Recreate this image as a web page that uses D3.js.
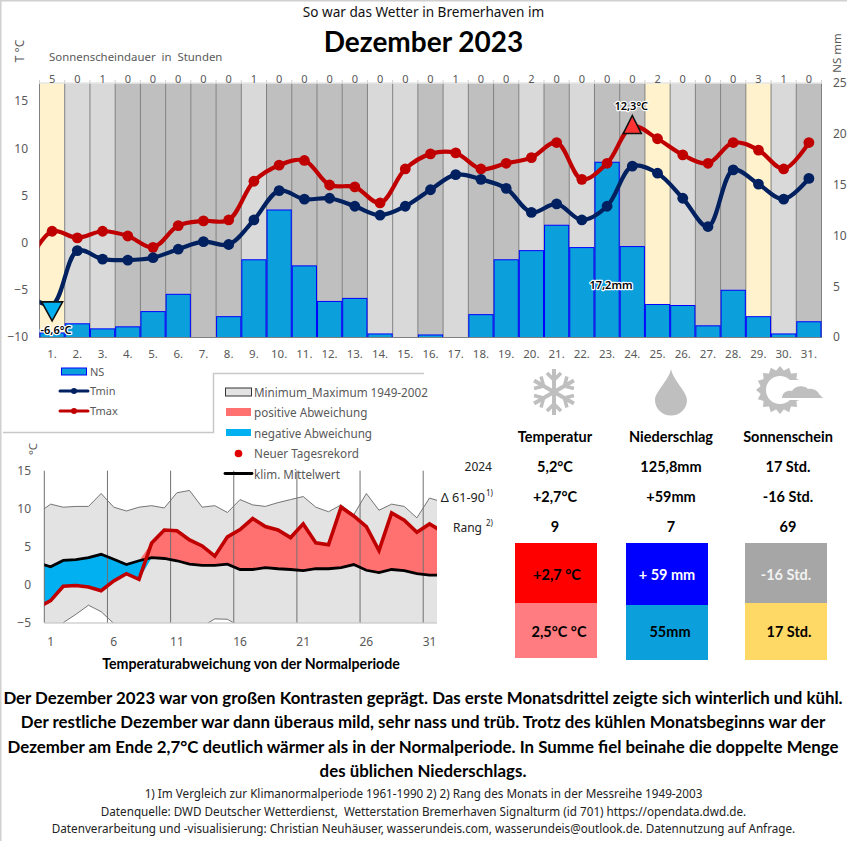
<!DOCTYPE html>
<html><head><meta charset="utf-8">
<script src="https://cdn.jsdelivr.net/npm/d3@7"></script>
<style>html,body{margin:0;padding:0;background:#fff}svg{display:block}text{white-space:pre}</style>
</head><body><svg id="c" width="847" height="841"></svg>
<script>
// ---- data ----
const days = d3.range(1, 32);
const sunshine = [5,0,1,0,0,0,0,0,1,0,0,0,0,0,0,0,1,0,0,2,0,0,0,0,2,0,0,0,3,1,0];
const skyClass = [2,1,1,0,0,0,0,0,1,0,0,0,0,1,1,0,1,0,0,1,0,1,0,0,2,1,0,0,2,1,0];
const precip = [0.4,1.3,0.8,1.0,2.5,4.2,0,2.0,7.6,12.5,7.0,3.5,3.8,0.3,0,0.2,0,2.2,7.6,8.5,11.0,8.8,17.2,8.9,3.2,3.1,1.1,4.6,2.0,0.3,1.5];
const tmax = [-2.3,1.2,0.5,1.2,0.7,-0.5,1.8,2.3,2.4,6.5,8.2,8.7,6.1,5.9,4.2,7.8,9.4,9.5,7.8,8.4,9.0,10.6,6.7,8.4,12.3,11.0,9.3,8.4,10.6,9.8,7.8,10.6];
const tmin = [-5.5,-6.6,-0.85,-1.75,-1.85,-1.6,-0.7,0.1,-0.2,2.4,5.5,4.6,4.7,3.85,2.9,3.85,5.6,7.2,6.7,5.75,3.2,4.1,2.4,3.85,8.1,7.35,4.7,1.7,7.7,6.2,4.6,6.8];
const recMax = [9.4,10.6,10.2,10.3,10.3,12.0,10.2,9.7,10.2,10.4,10.1,12.1,12.4,10.2,10.4,9.5,11.2,10.5,10.3,10.8,11.2,11.6,10.2,9.6,10.5,9.2,12.0,9.8,10.6,10.3,8.8,11.4,10.9];
const recMin = [-7,-6.5,-5.0,-3.9,-2.7,-3.55,-5.1,-6.2,-7,-7,-6.5,-7,-6.5,-5.5,-4.5,-4.55,-5.5,-7,-7,-7,-6.5,-7,-7,-6.5,-7,-7,-6.5,-7,-7,-6.5,-7,-7,-7];
const climMean = [2.9,2.35,3.2,3.3,3.55,4.0,3.35,2.65,3.15,3.55,3.45,3.15,2.7,2.55,2.55,2.7,2.0,2.0,2.25,2.1,2.0,1.85,2.1,2.1,2.25,2.65,1.9,1.6,2.0,1.85,1.45,1.25,1.25];
const tmean = [-3.0,-2.1,-0.2,-0.1,-0.3,-0.8,0.5,1.45,0.7,5.5,7.2,7.1,5.9,5.1,3.75,6.3,7.25,8.7,7.65,7.2,6.2,8.0,5.5,5.25,10.2,9.05,7.65,4.5,9.45,8.5,6.9,8.0,7.0];
const seriesDays = d3.range(0, 32);
const anomalyDays = d3.range(0, 33);
const tempTicks = [-10,-5,0,5,10,15];
const precipTicks = [0,5,10,15,20,25];
const anomalyTicks = [-5,0,5,10,15];
const anomalyLabelDays = [1,6,11,16,21,26,31];
const tableHeads = ["Temperatur","Niederschlag","Sonnenschein"];
const tableRows = [["5,2°C","125,8mm","17 Std."],["+2,7°C","+59mm","-16 Std."],["9","7","69"]];
const boxTop = ["+2,7 °C","+ 59 mm","-16 Std."];
const boxBottom = ["2,5°C °C","55mm","17 Std."];
const summary = ["Der Dezember 2023 war von großen Kontrasten geprägt. Das erste Monatsdrittel zeigte sich winterlich und kühl.",
"Der restliche Dezember war dann überaus mild, sehr nass und trüb. Trotz des kühlen Monatsbeginns war der",
"Dezember am Ende 2,7°C deutlich wärmer als in der Normalperiode. In Summe fiel beinahe die doppelte Menge",
"des üblichen Niederschlags."];
const notes = ["1) Im Vergleich zur Klimanormalperiode 1961-1990 2) 2) Rang des Monats in der Messreihe 1949-2003",
"Datenquelle: DWD Deutscher Wetterdienst,  Wetterstation Bremerhaven Signalturm (id 701) https://opendata.dwd.de.",
"Datenverarbeitung und -visualisierung: Christian Neuhäuser, wasserundeis.com, wasserundeis@outlook.de. Datennutzung auf Anfrage."];

// ---- setup ----
const SANS = "'Noto Sans',sans-serif", BOLD = "Lato,sans-serif", GREY = "#595959";
const svg = d3.select("#c");
svg.append("rect").attr("x",0.5).attr("y",0.5).attr("width",860).attr("height",860).attr("fill","none").attr("stroke","#d0d0d0").attr("stroke-width",2);
function txt(g,x,y,s,o={}){
  return g.append("text").attr("x",x).attr("y",y).text(s)
   .attr("font-family",o.f||SANS).attr("font-size",o.s||12).attr("fill",o.c||GREY)
   .attr("font-weight",o.w||400).attr("text-anchor",o.a||"middle").attr("dominant-baseline","central");
}
txt(svg,423.5,11,"So war das Wetter in Bremerhaven im",{s:13.6,c:"#111"});
txt(svg,423.5,41,"Dezember 2023",{f:BOLD,w:700,s:28,c:"#000"});

// ---- main chart ----
const L=39.5,R=821.5,T=83.5,B=337.5;
const x = d3.scaleLinear().domain([0,31]).range([L,R]);
const yT = d3.scaleLinear().domain([-10,15]).range([337,101]);
const yP = d3.scaleLinear().domain([0,25]).range([337,83]);
svg.append("clipPath").attr("id","clipM").append("rect").attr("x",L).attr("y",T).attr("width",R-L).attr("height",B-T);
const m = svg.append("g");
const skyColors = ["#bfbfbf","#d9d9d9","#fff2cc"];
m.selectAll(".sky").data(days).join("rect").attr("x",d=>x(d-1)).attr("y",T).attr("width",d=>x(d)-x(d-1)).attr("height",B-T)
  .attr("fill",(d,i)=>skyColors[skyClass[i]]);
m.selectAll(".sep").data(d3.range(0,32)).join("line").attr("x1",d=>x(d)).attr("x2",d=>x(d)).attr("y1",T).attr("y2",B).attr("stroke","#808080").attr("stroke-width",1);
m.selectAll(".tick").data(d3.range(0,32)).join("line").attr("x1",d=>x(d)).attr("x2",d=>x(d)).attr("y1",80).attr("y2",T).attr("stroke","#d0d0d0");
m.append("line").attr("x1",L).attr("x2",R).attr("y1",83).attr("y2",83).attr("stroke","#d9d9d9");
m.selectAll(".bar").data(days).join("rect").attr("x",d=>x(d-1)+.5).attr("width",d=>x(d)-x(d-1)-1)
  .attr("y",(d,i)=>yP(precip[i])).attr("height",(d,i)=>precip[i]>0?337.5-yP(precip[i]):0)
  .attr("fill","#0ba0dc").attr("stroke","#0000ff").attr("stroke-width",1);
m.append("line").attr("x1",L).attr("x2",R).attr("y1",337.5).attr("y2",337.5).attr("stroke","#808080");
const lineM = v => d3.line().x(d=>x(d-0.5)).y((d,i)=>yT(v[i])).curve(d3.curveCatmullRom.alpha(0.5))(seriesDays);
const lines = m.append("g").attr("clip-path","url(#clipM)");
[[tmax,"#c00000"],[tmin,"#002060"]].forEach(([v,c])=>{
  lines.append("path").attr("d",lineM(v)).attr("fill","none").attr("stroke",c).attr("stroke-width",4.2);
  lines.selectAll(null).data(days).join("circle").attr("cx",d=>x(d-0.5)).attr("cy",d=>yT(v[d])).attr("r",5.4).attr("fill",c)
    .attr("visibility",d=>(d===1&&v===tmin)||(d===24&&v===tmax)?"hidden":"visible");
});
// extreme markers
const tri = (cx,t,b,hw,up)=>up?`M${cx},${t}L${cx+hw},${b}L${cx-hw},${b}Z`:`M${cx-hw},${t}L${cx+hw},${t}L${cx},${b}Z`;
const xMax=x(23.5), yMax=yT(tmax[24]), xMin=x(0.5), yMin=yT(tmin[1]);
m.append("path").attr("d",tri(xMax,yMax-11,yMax+7,9,true)).attr("fill","#ff3333").attr("stroke","#111").attr("stroke-width",1.6);
m.append("path").attr("d",tri(xMin,yMin-3,yMin+16,10.5,false)).attr("fill","#00b0f0").attr("stroke","#111").attr("stroke-width",1.6);
function halo(g,x0,y0,s){ txt(g,x0,y0,s,{s:11,c:"#000",w:600}).attr("stroke","#fff").attr("stroke-width",2.4).attr("paint-order","stroke").attr("stroke-linejoin","round"); }
halo(m,x(23.5)-1,105,"12,3°C");
halo(m,56,329,"-6,6°C");
halo(m,611,284,"17,2mm");

// axes
function styleAxis(g){ g.select(".domain").remove(); g.selectAll("line").remove(); g.selectAll("text").attr("font-family",SANS).attr("font-size",12).attr("fill",GREY); }
svg.append("g").attr("transform","translate(28,0)").call(d3.axisLeft(yT).tickValues(tempTicks).tickSize(0).tickPadding(0)).call(styleAxis);
svg.append("g").attr("transform","translate(833,0)").call(d3.axisRight(yP).tickValues(precipTicks).tickSize(0).tickPadding(0)).call(styleAxis);
svg.append("g").selectAll("text").data(days).join("text").attr("x",d=>x(d-0.5)).attr("y",353).text(d=>d+".")
  .attr("font-family",SANS).attr("font-size",11.5).attr("fill",GREY).attr("text-anchor","middle").attr("dominant-baseline","central");
svg.append("g").selectAll("text").data(days).join("text").attr("x",d=>x(d-0.5)).attr("y",78).text((d,i)=>sunshine[i])
  .attr("font-family",SANS).attr("font-size",11).attr("fill",GREY).attr("text-anchor","middle").attr("dominant-baseline","central");
txt(svg,49,56,"Sonnenscheindauer  in  Stunden",{s:11.4,a:"start"});
txt(svg,0,0,"T °C",{s:12}).attr("transform","translate(19,51) rotate(-90)").attr("x",0).attr("y",0);
txt(svg,0,0,"NS mm",{s:11.5}).attr("transform","translate(836,53) rotate(-90)");

// ---- legends ----
const lg = svg.append("g");
lg.append("path").attr("d","M3,432.5H213.5V373.5H424").attr("fill","none").attr("stroke","#c8c8c8").attr("stroke-width",1.5);
lg.append("rect").attr("x",61.5).attr("y",368).attr("width",25).attr("height",7).attr("fill","#0ba0dc").attr("stroke","#0000ff");
txt(lg,90,371,"NS",{s:11,a:"start"});
[["Tmin","#002060",391],["Tmax","#c00000",411]].forEach(([s,c,y])=>{
  lg.append("line").attr("x1",60).attr("x2",88).attr("y1",y).attr("y2",y).attr("stroke",c).attr("stroke-width",3).attr("stroke-linecap","round");
  lg.append("circle").attr("cx",74).attr("cy",y).attr("r",3).attr("fill",c);
  txt(lg,90,y-1,s,{s:11,a:"start"});
});
lg.append("rect").attr("x",225.5).attr("y",388).attr("width",26).attr("height",8).attr("fill","#e3e3e3").attr("stroke","#333");
lg.append("rect").attr("x",226).attr("y",408).attr("width",25).attr("height",8).attr("fill","#ff7070");
lg.append("rect").attr("x",226).attr("y",429).attr("width",25).attr("height",7).attr("fill","#00b0f0");
lg.append("circle").attr("cx",238.5).attr("cy",453.5).attr("r",3.8).attr("fill","#e00000");
[["Minimum_Maximum 1949-2002",392],["positive Abweichung",412],["negative Abweichung",433],["Neuer Tagesrekord",453]].forEach(([s,y])=>txt(lg,254,y,s,{s:11.7,a:"start"}));

// ---- anomaly chart ----
const L2=44.3,R2=437,T2=470.7,B2=622.7;
const xA = d3.scaleLinear().domain([0,31]).range([L2,L2+31*12.63]);
const yA = d3.scaleLinear().domain([-5,15]).range([B2,T2]);
svg.append("clipPath").attr("id","clipA").append("rect").attr("x",L2).attr("y",T2).attr("width",R2-L2).attr("height",B2-T2);
const a = svg.append("g").attr("clip-path","url(#clipA)");
const px = d=>xA(d-0.5);
const band = (lo,hi)=>d3.area().x(d=>px(d)).y0((d,i)=>yA(lo(i))).y1((d,i)=>yA(hi(i)))(anomalyDays);
a.append("path").attr("d",band(i=>recMin[i],i=>recMax[i])).attr("fill","#e3e3e3");
const thin = v=>d3.line().x(d=>px(d)).y((d,i)=>yA(v[i]))(anomalyDays);
a.append("path").attr("d",thin(recMax)).attr("fill","none").attr("stroke","#666").attr("stroke-width",.9);
a.append("path").attr("d",thin(recMin)).attr("fill","none").attr("stroke","#666").attr("stroke-width",.9);
a.append("path").attr("d",band(i=>climMean[i],i=>Math.max(tmean[i],climMean[i]))).attr("fill","#ff7070");
a.append("path").attr("d",band(i=>Math.min(tmean[i],climMean[i]),i=>climMean[i])).attr("fill","#00b0f0");
const grid = svg.append("g");
grid.selectAll("line").data(anomalyLabelDays).join("line").attr("x1",d=>xA(d-1)).attr("x2",d=>xA(d-1)).attr("y1",T2).attr("y2",B2).attr("stroke","#707070").attr("stroke-width",1);
grid.append("line").attr("x1",L2).attr("x2",R2).attr("y1",B2+.3).attr("y2",B2+.3).attr("stroke","#bbb");
const a2 = svg.append("g").attr("clip-path","url(#clipA)");
a2.append("path").attr("d",thin(climMean)).attr("fill","none").attr("stroke","#000").attr("stroke-width",2.8);
a2.append("path").attr("d",thin(tmean)).attr("fill","none").attr("stroke","#c00000").attr("stroke-width",3.6).attr("stroke-linejoin","miter");
svg.append("g").attr("transform","translate(31,0)").call(d3.axisLeft(yA).tickValues(anomalyTicks).tickSize(0).tickPadding(0)).call(styleAxis);
svg.append("g").selectAll("text").data(anomalyLabelDays).join("text").attr("x",d=>xA(d-0.5)).attr("y",641).text(d=>d)
  .attr("font-family",SANS).attr("font-size",12).attr("fill",GREY).attr("text-anchor","middle").attr("dominant-baseline","central");
txt(svg,0,0,"°C",{s:11.5}).attr("transform","translate(32,449) rotate(-90)");
txt(svg,251,663,"Temperaturabweichung von der Normalperiode",{f:BOLD,w:700,s:14.2,c:"#000"});
// legend entry drawn over the chart
lg.raise();
lg.append("line").attr("x1",225).attr("x2",252).attr("y1",473.5).attr("y2",473.5).attr("stroke","#000").attr("stroke-width",2.8).attr("stroke-linecap","round");
txt(lg,254,474,"klim. Mittelwert",{s:11.7,a:"start"});

// ---- table ----
const colX = [555,671,788], rowY=[466,496,526];
const tb = svg.append("g");
tableHeads.forEach((s,i)=>txt(tb,colX[i],436,s,{f:BOLD,w:700,s:14.5,c:"#000"}));
tableRows.forEach((r,j)=>r.forEach((s,i)=>txt(tb,colX[i],rowY[j],s,{f:BOLD,w:700,s:14.5,c:"#000"})));
txt(tb,492,466,"2024",{s:12,a:"end",c:"#222"});
txt(tb,485,497,"Δ 61-90",{s:12.6,a:"end",c:"#222"});
txt(tb,493,492,"1)",{s:8,a:"end",c:"#222"});
txt(tb,482,527,"Rang",{s:12,a:"end",c:"#222"});
txt(tb,493,522,"2)",{s:8,a:"end",c:"#222"});
const boxes=[[515,543,603,658,"#ff0000","#ff7c80","#000",557],[626,543,605,660,"#0000ff","#0ba0dc","#fff",667],[745,543,603,660,"#a6a6a6","#ffd966","#f2f2f2",786]];
boxes.forEach((b,i)=>{
  tb.append("rect").attr("x",b[0]).attr("y",b[1]).attr("width",82).attr("height",b[2]-b[1]).attr("fill",b[4]);
  tb.append("rect").attr("x",b[0]).attr("y",b[2]).attr("width",82).attr("height",b[3]-b[2]).attr("fill",b[5]);
  txt(tb,b[7],574,boxTop[i],{f:BOLD,w:700,s:14.5,c:b[6]});
  txt(tb,b[0]+44,631,boxBottom[i],{f:BOLD,w:700,s:14.5,c:"#000"});
});

// ---- icons ----
const ic = svg.append("g"), IC="#bfbfbf";
const snow = ic.append("g").attr("transform","translate(554,392)").attr("stroke",IC).attr("fill","none").attr("stroke-width",4);
d3.range(6).forEach(k=>{
  const g=snow.append("g").attr("transform",`rotate(${k*60})`);
  g.append("line").attr("y1",0).attr("y2",-23);
  g.append("path").attr("d","M-7,-19L0,-12L7,-19").attr("stroke-width",3.5);
});
ic.append("path").attr("d","M671,369C673,380 687,392 687,400A16,15.5 0 0 1 655,400C655,392 669,380 671,369Z").attr("fill",IC);
const sun = ic.append("g").attr("transform","translate(780,390)");
d3.range(16).forEach(k=>sun.append("path").attr("transform",`rotate(${k*22.5})`).attr("d","M-5,-18L0,-24L5,-18Z").attr("fill",IC));
sun.append("circle").attr("r",16.5).attr("fill","none").attr("stroke",IC).attr("stroke-width",5);
ic.append("rect").attr("x",781).attr("y",380).attr("width",44).attr("height",20).attr("fill","#fff");
ic.append("path").attr("d","M782,398C782,392 788,390 792,391C795,385 805,385 808,389C813,388 818,391 819,394L823,398Z").attr("fill",IC);

// ---- text block ----
const sy=[697,721,746,770];
summary.forEach((s,i)=>txt(svg,423,sy[i],s,{f:BOLD,w:700,s:16.85,c:"#000"}));
const ny=[793,811,828];
notes.forEach((s,i)=>txt(svg,423.5,ny[i],s,{s:11.7,c:"#222"}));
</script></body></html>
